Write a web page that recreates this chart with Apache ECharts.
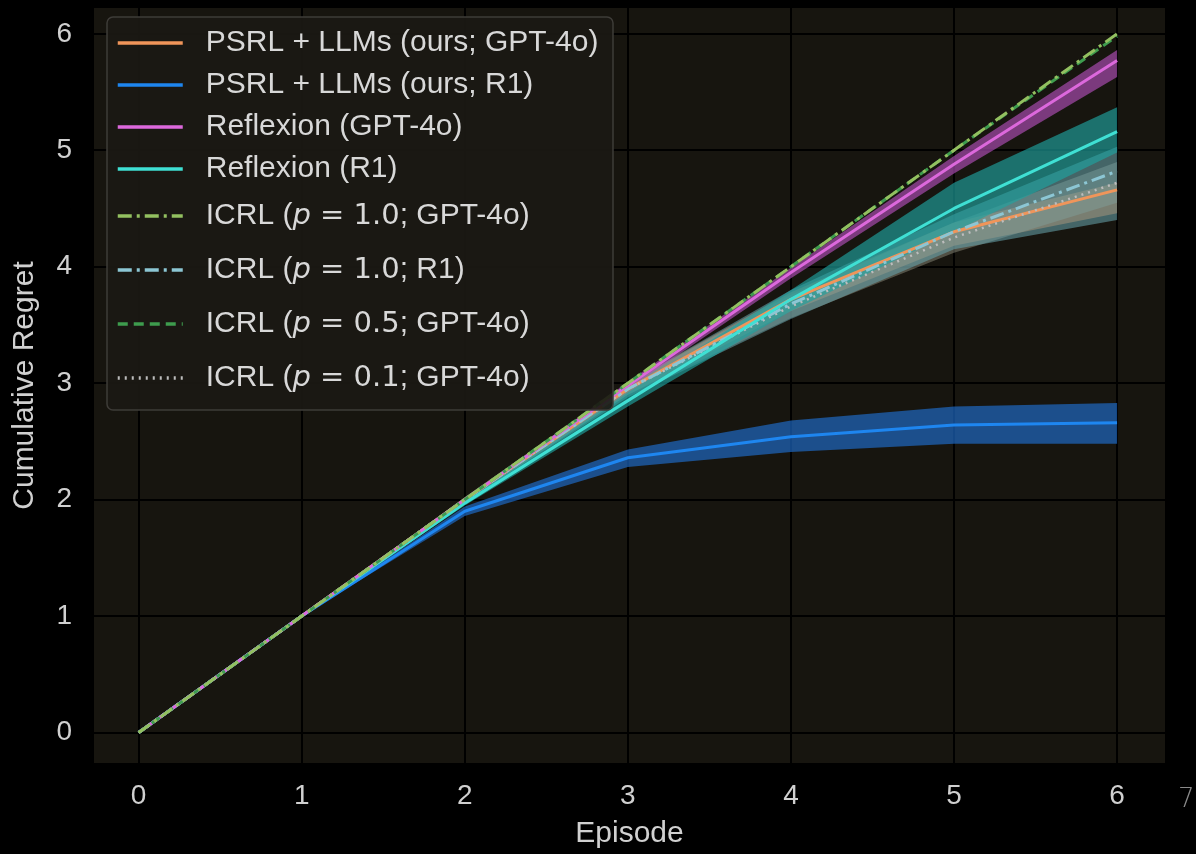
<!DOCTYPE html>
<html>
<head>
<meta charset="utf-8">
<script src="https://cdn.jsdelivr.net/npm/echarts@6/dist/echarts.min.js"></script>
<style>
  html, body { margin: 0; padding: 0; background: #000; }
  #chart { width: 1196px; height: 854px; }
</style>
</head>
<body>
<div id="chart"></div>
<script>
  // episodes
  var episodes = [0, 1, 2, 3, 4, 5, 6];

  // PSRL + LLMs (ours; GPT-4o)
  var psrlGptMean = [0, 1, 2.0, 2.95, 3.72, 4.30, 4.66];
  var psrlGptLow  = [0, 1, 1.98, 2.90, 3.62, 4.18, 4.46];
  var psrlGptHigh = [0, 1, 2.02, 3.00, 3.78, 4.38, 4.72];

  // PSRL + LLMs (ours; R1)
  var psrlR1Mean = [0, 1, 1.90, 2.36, 2.54, 2.64, 2.66];
  var psrlR1Low  = [0, 1, 1.86, 2.28, 2.41, 2.48, 2.48];
  var psrlR1High = [0, 1, 1.94, 2.43, 2.68, 2.80, 2.83];

  // Reflexion (GPT-4o)
  var reflGptMean = [0, 1, 2.0, 2.98, 3.95, 4.88, 5.77];
  var reflGptLow  = [0, 1, 1.99, 2.95, 3.90, 4.80, 5.63];
  var reflGptHigh = [0, 1, 2.01, 3.01, 3.99, 4.95, 5.86];

  // Reflexion (R1)
  var reflR1Mean = [0, 1, 1.97, 2.85, 3.72, 4.50, 5.16];
  var reflR1Low  = [0, 1, 1.95, 2.80, 3.62, 4.30, 4.98];
  var reflR1High = [0, 1, 1.99, 2.92, 3.80, 4.72, 5.37];

  // ICRL (p = 1.0; R1)
  var icrlR1Mean = [0, 1, 2.0, 2.95, 3.68, 4.30, 4.82];
  var icrlR1Low  = [0, 1, 1.98, 2.88, 3.55, 4.15, 4.40];
  var icrlR1High = [0, 1, 2.02, 3.00, 3.80, 4.45, 5.03];

  // ICRL (p = 0.1; GPT-4o)
  var icrl01Mean = [0, 1, 2.0, 2.95, 3.66, 4.25, 4.72];
  var icrl01Low  = [0, 1, 1.98, 2.90, 3.56, 4.12, 4.55];
  var icrl01High = [0, 1, 2.02, 3.00, 3.76, 4.38, 4.90];

  // ICRL (p = 1.0 / 0.5; GPT-4o)
  var icrl10GptMean = [0, 1, 2, 3, 4, 5, 6.0];
  var icrl05GptMean = [0, 1, 2, 3, 4, 5, 5.98];

  var names = [
    'PSRL + LLMs (ours; GPT-4o)',
    'PSRL + LLMs (ours; R1)',
    'Reflexion (GPT-4o)',
    'Reflexion (R1)',
    'ICRL (p = 1.0; GPT-4o)',
    'ICRL (p = 1.0; R1)',
    'ICRL (p = 0.5; GPT-4o)',
    'ICRL (p = 0.1; GPT-4o)'
  ];

  function pairs(ys) {
    return episodes.map(function (x, i) { return [x, ys[i]]; });
  }

  // shaded band between low and high, one polygon through the axis scales
  function band(low, high, color, opacity) {
    return {
      type: 'custom', silent: true, z: 2,
      data: episodes.map(function (x, i) { return [x, low[i], high[i]]; }),
      renderItem: function (params, api) {
        if (params.dataIndex !== 0) return null;
        var pts = [];
        for (var i = 0; i < episodes.length; i++) pts.push(api.coord([episodes[i], high[i]]));
        for (var j = episodes.length - 1; j >= 0; j--) pts.push(api.coord([episodes[j], low[j]]));
        return {
          type: 'polygon',
          shape: { points: pts },
          style: { fill: color, opacity: opacity }
        };
      }
    };
  }

  function line(name, ys, color, type, width) {
    return {
      name: name, type: 'line', symbol: 'none', data: pairs(ys),
      itemStyle: { color: color },
      lineStyle: { color: color, width: width || 3, type: type || 'solid' },
      z: 3
    };
  }

  var series = [
    band(psrlGptLow, psrlGptHigh, '#c0652f', 0.7),
    band(psrlR1Low, psrlR1High, '#1f6fd0', 0.65),
    band(icrl01Low, icrl01High, '#9a9a88', 0.45),
    band(icrlR1Low, icrlR1High, '#6aa8b0', 0.55),
    band(reflR1Low, reflR1High, '#1fa3a0', 0.65),
    band(reflGptLow, reflGptHigh, '#b04fb8', 0.65),
    line(names[0], psrlGptMean, '#f0955a'),
    line(names[1], psrlR1Mean, '#1e86f0'),
    line(names[7], icrl01Mean, '#bdbdbd', [2, 5], 2.5),
    line(names[5], icrlR1Mean, '#8cc6d4', [14, 5, 3, 5], 3),
    line(names[3], reflR1Mean, '#3fe0d4'),
    line(names[2], reflGptMean, '#dc68dc'),
    line(names[6], icrl05GptMean, '#3e9c4e', [10, 6], 3),
    line(names[4], icrl10GptMean, '#93c060', [14, 5, 3, 5], 3)
  ];

  var labelFont = 'Liberation Sans';
  var legendText = {
    color: '#d8d8d8', fontSize: 30, fontFamily: labelFont, lineHeight: 34,
    rich: {
      s: { width: 18 },
      i: { fontStyle: 'italic', fontFamily: 'DejaVu Sans', fontSize: 29, color: '#d8d8d8' },
      m: { fontFamily: 'DejaVu Sans', fontSize: 29, color: '#d8d8d8' }
    }
  };
  function legendFmt(name) {
    var m = name.match(/^ICRL \(p = ([0-9.]+); (.*)\)$/);
    if (m) return '{s|}ICRL ({i|p}{m| = ' + m[1] + '}; ' + m[2] + ')';
    return '{s|}' + name;
  }

  var chart = echarts.init(document.getElementById('chart'));
  chart.setOption({
    backgroundColor: '#000000',
    animation: false,
    grid: {
      left: 93, right: 30, top: 7, bottom: 86,
      show: true, backgroundColor: '#17150f', borderWidth: 0
    },
    xAxis: {
      type: 'value', min: -0.28, max: 6.30,
      name: 'Episode', nameLocation: 'middle', nameGap: 55,
      nameTextStyle: { color: '#d0d0d0', fontSize: 30, fontFamily: labelFont },
      axisLine: { show: false }, axisTick: { show: false },
      axisLabel: {
        color: '#d0d0d0', fontSize: 28, fontFamily: labelFont, margin: 18,
        showMinLabel: false, showMaxLabel: false
      },
      splitLine: { show: true, lineStyle: { color: '#000000', width: 2 } }
    },
    yAxis: {
      type: 'value', min: -0.27, max: 6.23,
      name: 'Cumulative Regret', nameLocation: 'middle', nameGap: 53,
      nameTextStyle: { color: '#d0d0d0', fontSize: 30, fontFamily: labelFont },
      axisLine: { show: false }, axisTick: { show: false },
      axisLabel: {
        color: '#d0d0d0', fontSize: 28, fontFamily: labelFont, margin: 21,
        showMinLabel: false, showMaxLabel: false
      },
      splitLine: { show: true, lineStyle: { color: '#000000', width: 2 } }
    },
    graphic: [
      {
        type: 'rect', z: 50,
        shape: { x: 107, y: 17, width: 506, height: 393, r: 6 },
        style: { fill: 'rgba(27,25,20,0.92)', stroke: '#3e3c38', lineWidth: 1.5 }
      },
      {
        type: 'text', left: 1178, top: 787, z: 50,
        style: { text: '7', fill: '#8a8a8a', fontSize: 26, fontFamily: 'DejaVu Sans', fontWeight: 200 }
      }
    ],
    legend: [
      {
        z: 60, orient: 'vertical', left: 116, top: 26, padding: 0,
        itemWidth: 65, itemHeight: 14, itemGap: 8,
        itemStyle: { opacity: 0, borderWidth: 0 },
        lineStyle: { width: 3.5 },
        data: names.slice(0, 4), formatter: legendFmt, textStyle: legendText
      },
      {
        z: 60, orient: 'vertical', left: 116, top: 199, padding: 0,
        itemWidth: 65, itemHeight: 14, itemGap: 20,
        itemStyle: { opacity: 0, borderWidth: 0 },
        lineStyle: { width: 3.5 },
        data: names.slice(4), formatter: legendFmt, textStyle: legendText
      }
    ],
    series: series
  });
</script>
</body>
</html>
